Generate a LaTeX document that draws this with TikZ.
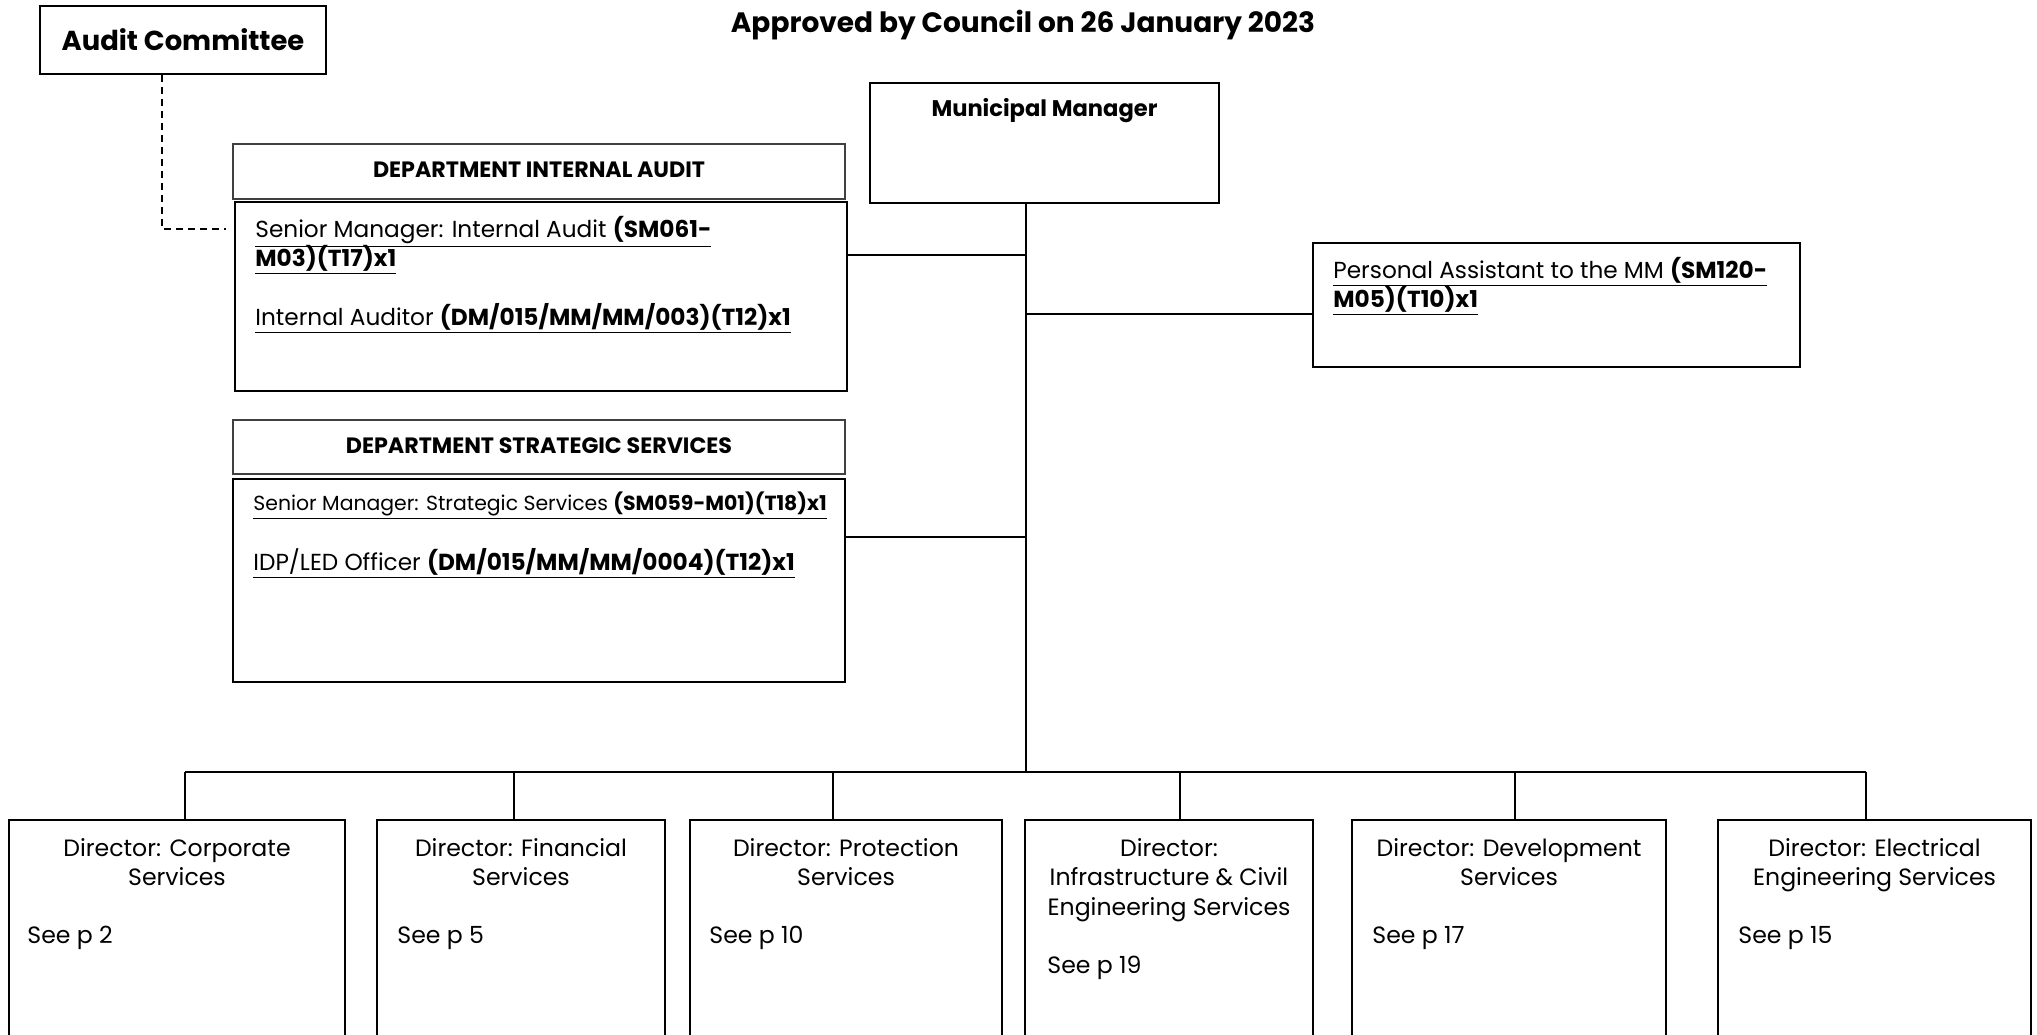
\documentclass[tikz,border=0pt]{standalone}
\usepackage{fontspec}
\setmainfont{Poppins}
\begin{document}
\begin{tikzpicture}[x=0.5pt,y=-0.5pt,
  rb/.style 2 args={draw, line width=1.1pt, inner sep=0pt, minimum width=#1*0.5pt, minimum height=#2*0.5pt},
  hb/.style 2 args={draw=black!75, line width=0.8pt, inner sep=0pt, minimum width=#1*0.5pt, minimum height=#2*0.5pt},
  conn/.style={line width=1pt},
  dashconn/.style={line width=0.6pt, dash pattern=on 3.5pt off 2.5pt},
  lt/.style={inner sep=0pt, anchor=base west, font=\fontsize{11.6}{14}\selectfont},
  lts/.style={inner sep=0pt, anchor=base west, font=\fontsize{10.2}{12}\selectfont},
  dt/.style={inner sep=0pt, anchor=base, align=center, font=\fontsize{11.8}{14.75}\selectfont},
  st/.style={inner sep=0pt, anchor=base west, font=\fontsize{11.8}{14.75}\selectfont},
  hd/.style={inner sep=0pt, font=\bfseries\fontsize{11.1}{13}\selectfont}
]
\useasboundingbox (0,0) rectangle (2037,1034);
\clip (0,0) rectangle (2037,1034);

% title
\node[inner sep=0pt, font=\bfseries\fontsize{14}{17}\selectfont] (title) at (1023,25) {Approved by Council on 26 January 2023};

% audit committee
\node[rb={286}{68}, font=\bfseries\fontsize{13.7}{16}\selectfont] (ac) at (183,40) {Audit Committee};

% municipal manager
\node[rb={349}{120}] (mm) at (1044.5,143) {};
\node[inner sep=0pt, anchor=base, font=\bfseries\fontsize{11.3}{14}\selectfont] (mmt) at (1044.5,116) {Municipal Manager};

% internal audit
\node[hb={612}{55}] (iah) at (539,171.5) {};
\node[hd] (iaht) at (539,170) {DEPARTMENT INTERNAL AUDIT};
\node[rb={612}{189}] (iab) at (541,296.5) {};
\node[lt] (ia1) at (255,237) {\underline{Senior Manager: Internal Audit \textbf{(SM061-}}};
\node[lt] (ia2) at (255,266) {\underline{\textbf{M03)(T17)x1}}};
\node[lt] (ia3) at (255,325) {\underline{Internal Auditor \textbf{(DM/015/MM/MM/003)(T12)x1}}};

% strategic services
\node[hb={612}{54}] (ssh) at (539,447) {};
\node[hd] (ssht) at (539,446) {DEPARTMENT STRATEGIC SERVICES};
\node[rb={612}{203}] (ssb) at (539,580.5) {};
\node[lts] (ss1) at (253,510) {\underline{Senior Manager: Strategic Services \textbf{(SM059-M01)(T18)x1}}};
\node[lt] (ss2) at (253,570) {\underline{IDP/LED Officer \textbf{(DM/015/MM/MM/0004)(T12)x1}}};

% personal assistant
\node[rb={487}{124}] (pa) at (1556.5,305) {};
\node[lt] (pa1) at (1333,278) {\underline{Personal Assistant to the MM \textbf{(SM120-}}};
\node[lt] (pa2) at (1333,307) {\underline{\textbf{M05)(T10)x1}}};

% directors
\node[rb={336}{240}] (d1) at (177,940) {};
\node[rb={288}{240}] (d2) at (521,940) {};
\node[rb={312}{240}] (d3) at (846,940) {};
\node[rb={288}{240}] (d4) at (1169,940) {};
\node[rb={314}{240}] (d5) at (1509,940) {};
\node[rb={313}{240}] (d6) at (1874.5,940) {};

% multi-line labels: base anchor is the baseline of the last line
\node[dt] (d1t) at (177,885.5) {Director: Corporate\\Services};
\node[dt] (d2t) at (521,885.5) {Director: Financial\\Services};
\node[dt] (d3t) at (846,885.5) {Director: Protection\\Services};
\node[dt] (d4t) at (1169,915) {Director:\\Infrastructure \& Civil\\Engineering Services};
\node[dt] (d5t) at (1509,885.5) {Director: Development\\Services};
\node[dt] (d6t) at (1874.5,885.5) {Director: Electrical\\Engineering Services};

\node[st] (d1s) at (27,943) {See p 2};
\node[st] (d2s) at (397,943) {See p 5};
\node[st] (d3s) at (709,943) {See p 10};
\node[st] (d4s) at (1047,973) {See p 19};
\node[st] (d5s) at (1372,943) {See p 17};
\node[st] (d6s) at (1738,943) {See p 15};

% connector coordinates
\coordinate (bus) at (1026,772);
\coordinate (jIA) at (1026,255);
\coordinate (jPA) at (1026,314);
\coordinate (jSS) at (1026,537);
\coordinate (dashx) at (162,229);
\coordinate (x1) at (185,0);
\coordinate (x2) at (514,0);
\coordinate (x3) at (833,0);
\coordinate (x4) at (1180,0);
\coordinate (x5) at (1515,0);
\coordinate (x6) at (1866,0);

% connectors
\draw[conn] (mm.south -| bus) -- (bus);
\draw[conn] (iab.east |- jIA) -- (jIA);
\draw[conn] (jPA) -- (pa.west |- jPA);
\draw[conn] (ssb.east |- jSS) -- (jSS);
\draw[conn] (bus -| x1) -- (bus -| x6);
\foreach \i in {1,...,6} {
  \draw[conn] (bus -| x\i) -- (d\i.north -| x\i);
}
\draw[dashconn] (ac.south -| dashx) |- ([xshift=-4pt]iab.west |- dashx);
\end{tikzpicture}
\end{document}
